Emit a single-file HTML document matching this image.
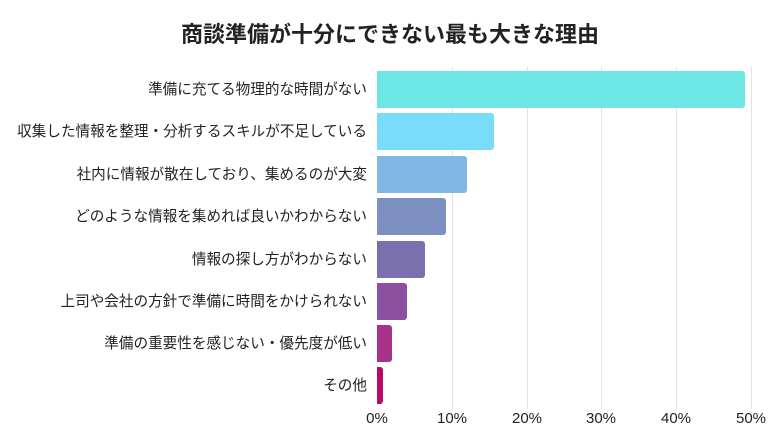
<!DOCTYPE html>
<html><head><meta charset="utf-8"><style>
body{margin:0;width:780px;height:438px;background:#fff;position:relative;overflow:hidden;font-family:"Liberation Sans","Noto Sans CJK JP",sans-serif;color:#222}
.t{position:absolute;top:17px;left:0;width:780px;text-align:center;font-size:22px;font-weight:bold}
.g{position:absolute;top:67px;height:342px;width:1px;background:#e2e2e2}
.b{position:absolute;left:377px;height:37px;border-radius:0 3px 3px 0}
.l{position:absolute;right:413px;font-size:14.6px;white-space:nowrap;line-height:37px}
.x{position:absolute;top:410px;font-size:15px;width:50px;margin-left:-25px;text-align:center}
</style></head><body>
<div class="t">商談準備が十分にできない最も大きな理由</div>
<div class="g" style="left:452px"></div><div class="g" style="left:527px"></div><div class="g" style="left:601px"></div><div class="g" style="left:676px"></div><div class="g" style="left:751px"></div>
<div class="b" style="top:71px;width:368px;background:#6de6e6"></div>
<div class="b" style="top:113px;width:117px;background:#79ddf9"></div>
<div class="b" style="top:156px;width:90px;background:#7fb8e4"></div>
<div class="b" style="top:198px;width:69px;background:#7b8fc1"></div>
<div class="b" style="top:241px;width:48px;background:#7a70ae"></div>
<div class="b" style="top:283px;width:30px;background:#8b50a0"></div>
<div class="b" style="top:325px;width:15px;background:#a83189"></div>
<div class="b" style="top:367px;width:6px;background:#b80c64"></div>
<div class="l" style="top:72px">準備に充てる物理的な時間がない</div>
<div class="l" style="top:114px">収集した情報を整理・分析するスキルが不足している</div>
<div class="l" style="top:157px">社内に情報が散在しており、集めるのが大変</div>
<div class="l" style="top:199px">どのような情報を集めれば良いかわからない</div>
<div class="l" style="top:242px">情報の探し方がわからない</div>
<div class="l" style="top:284px">上司や会社の方針で準備に時間をかけられない</div>
<div class="l" style="top:326px">準備の重要性を感じない・優先度が低い</div>
<div class="l" style="top:368px">その他</div>
<div class="x" style="left:377px">0%</div><div class="x" style="left:452px">10%</div><div class="x" style="left:527px">20%</div><div class="x" style="left:601px">30%</div><div class="x" style="left:676px">40%</div><div class="x" style="left:751px">50%</div>
</body></html>
